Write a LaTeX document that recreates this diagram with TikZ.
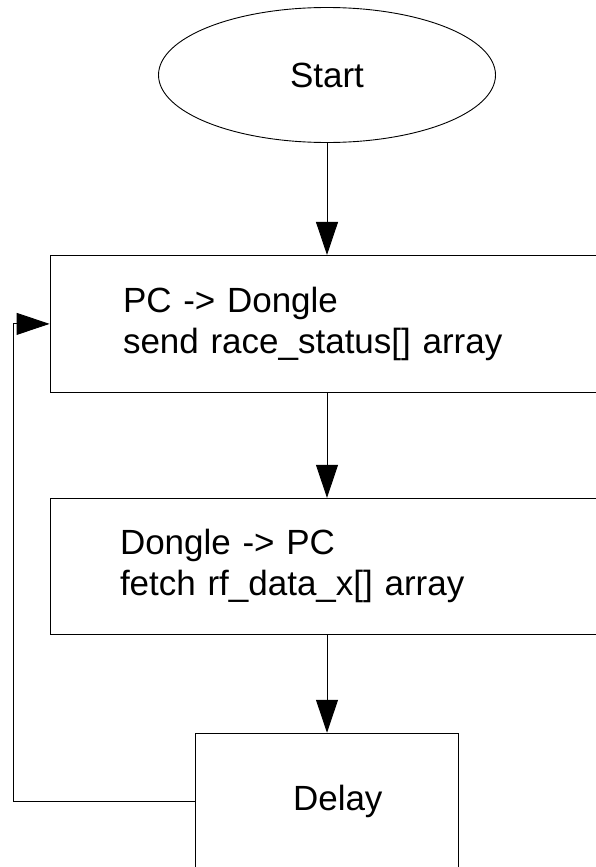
\documentclass[tikz,border=0pt]{standalone}
\usepackage{fontspec}
\setmainfont{Liberation Sans}
\usetikzlibrary{positioning,shapes.geometric,arrows.meta}

\begin{document}
\begin{tikzpicture}[x=1pt,y=-1pt,
  every node/.style={font=\fontsize{35}{41}\selectfont},
  flow/.style={draw,line width=0.9pt,-{Triangle[length=33pt,width=22pt]}},
  stepbox/.style={draw,line width=0.9pt,rectangle,inner ysep=0pt}]
  \useasboundingbox (0,0) rectangle (596,867);

  % Start
  \node[draw,ellipse,line width=0.9pt,inner sep=0pt,minimum width=337pt,minimum height=135pt] (start) at (327,75) {Start};

  % Steps
  \node[stepbox,minimum height=137pt,inner xsep=73pt,text width=408pt,align=left,below=112pt of start] (send) {PC -> Dongle\\send race\_status[] array};
  \node[stepbox,minimum height=136pt,inner xsep=70pt,text width=414pt,align=left,below=105pt of send] (fetch) {Dongle -> PC\\fetch rf\_data\_x[] array};
  \node[stepbox,minimum height=136pt,inner xsep=76pt,text width=111pt,align=right,below=98pt of fetch] (delay) {Delay};

  % Connectors
  \draw[flow] (start) -- (send);
  \draw[flow] (send) -- (fetch);
  \draw[flow] (fetch) -- (delay);

  % Loop back
  \coordinate (back) at (13,0);
  \draw[flow] (delay.west) -- (delay.west -| back) |- (send.west);
\end{tikzpicture}
\end{document}
